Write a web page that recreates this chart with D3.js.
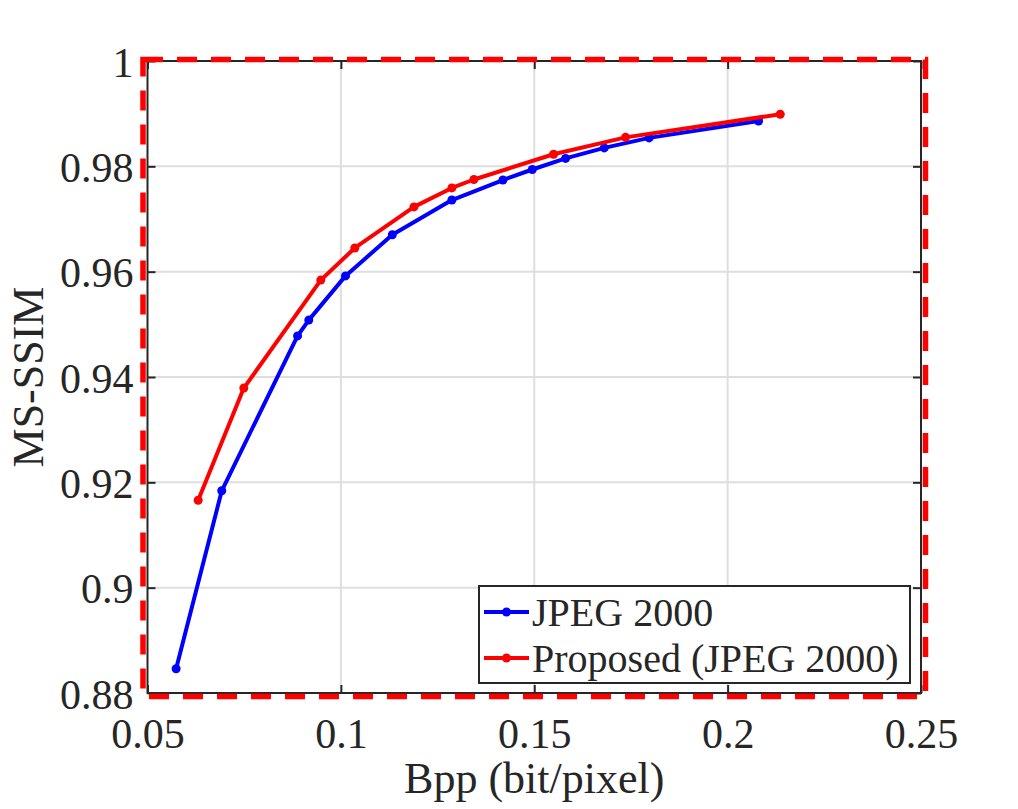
<!DOCTYPE html>
<html>
<head>
<meta charset="utf-8">
<script src="https://cdn.jsdelivr.net/npm/d3@7"></script>
<style>
  body { margin: 0; background: #fff; }
  text { font-family: "Liberation Serif", "Times New Roman", serif; fill: #262626; }
</style>
</head>
<body>
<svg width="1018" height="809"></svg>
<script>
//data
var jpegBpp = [0.0574, 0.0692, 0.0888, 0.0917, 0.1012, 0.1133, 0.1287, 0.1419, 0.1495, 0.1581, 0.1681, 0.1797, 0.2080];
var jpegSsim = [0.8846, 0.9184, 0.9478, 0.9508, 0.9592, 0.9670, 0.9736, 0.9774, 0.9794, 0.9815, 0.9835, 0.9854, 0.9886];
var propBpp = [0.0631, 0.0749, 0.0948, 0.1036, 0.1189, 0.1287, 0.1344, 0.1550, 0.1736, 0.2136];
var propSsim = [0.9166, 0.9379, 0.9584, 0.9645, 0.9723, 0.9759, 0.9775, 0.9823, 0.9855, 0.9899];
var xTicks = [0.05, 0.1, 0.15, 0.2, 0.25];
var yTicks = [0.88, 0.9, 0.92, 0.94, 0.96, 0.98, 1];
var seriesNames = ["JPEG 2000", "Proposed (JPEG 2000)"];
var seriesColors = ["#0000ff", "#ff0000"];

var svg = d3.select("svg");

//plot box
var pL = 147.5, pR = 921, pT = 61, pB = 693;

var x = d3.scaleLinear().domain([0.05, 0.25]).range([pL, pR]);
var y = d3.scaleLinear().domain([0.88, 1]).range([pB, pT]);

var series = [
    { name: seriesNames[0], color: seriesColors[0], pts: jpegBpp.map(function (d, i) { return [d, jpegSsim[i]]; }) },
    { name: seriesNames[1], color: seriesColors[1], pts: propBpp.map(function (d, i) { return [d, propSsim[i]]; }) }
];

//grid
svg.append("g").selectAll("line")
    .data(xTicks.slice(1, -1))
    .enter().append("line")
    .attr("x1", function (d) { return x(d); })
    .attr("x2", function (d) { return x(d); })
    .attr("y1", pT).attr("y2", pB)
    .attr("stroke", "#dedede").attr("stroke-width", 2);

svg.append("g").selectAll("line")
    .data(yTicks.slice(1, -1))
    .enter().append("line")
    .attr("y1", function (d) { return y(d); })
    .attr("y2", function (d) { return y(d); })
    .attr("x1", pL).attr("x2", pR)
    .attr("stroke", "#dedede").attr("stroke-width", 2);

//axes, ticks point inwards, box on
var tk = 8;
function styleTicks(g) {
    g.select(".domain").remove();
    g.selectAll("line").attr("stroke", "#262626").attr("stroke-width", 2);
}

svg.append("g").attr("transform", "translate(0," + pB + ")")
    .call(d3.axisBottom(x).tickValues(xTicks).tickSizeInner(-tk).tickSizeOuter(0).tickFormat(d3.format("")))
    .call(styleTicks)
    .call(function (g) {
        g.selectAll("text").attr("font-size", 42).attr("fill", "#262626").attr("y", 55).attr("dy", 0);
    });

svg.append("g").attr("transform", "translate(0," + pT + ")")
    .call(d3.axisTop(x).tickValues(xTicks).tickSizeInner(-tk).tickSizeOuter(0).tickFormat(""))
    .call(styleTicks);

svg.append("g").attr("transform", "translate(" + pL + ",0)")
    .call(d3.axisLeft(y).tickValues(yTicks).tickSizeInner(-tk).tickSizeOuter(0).tickFormat(d3.format("")))
    .call(styleTicks)
    .call(function (g) {
        g.selectAll("text").attr("font-size", 42).attr("fill", "#262626").attr("x", -14).attr("dy", "0.36em");
    });

svg.append("g").attr("transform", "translate(" + pR + ",0)")
    .call(d3.axisRight(y).tickValues(yTicks).tickSizeInner(-tk).tickSizeOuter(0).tickFormat(""))
    .call(styleTicks);

svg.selectAll(".tick text").attr("font-family", "'Liberation Serif', 'Times New Roman', serif");

//box outline
svg.append("rect")
    .attr("x", pL).attr("y", pT)
    .attr("width", pR - pL).attr("height", pB - pT)
    .attr("fill", "none").attr("stroke", "#262626").attr("stroke-width", 2);

//curves
var line = d3.line()
    .x(function (d) { return x(d[0]); })
    .y(function (d) { return y(d[1]); });

series.forEach(function (s) {
    svg.append("path")
        .datum(s.pts)
        .attr("d", line)
        .attr("fill", "none")
        .attr("stroke", s.color)
        .attr("stroke-width", 4)
        .attr("stroke-linejoin", "round");

    svg.append("g").selectAll("circle")
        .data(s.pts)
        .enter().append("circle")
        .attr("cx", function (d) { return x(d[0]); })
        .attr("cy", function (d) { return y(d[1]); })
        .attr("r", 4.5)
        .attr("fill", s.color);
});

//axis labels
svg.append("text")
    .attr("x", (pL + pR) / 2).attr("y", 793)
    .attr("text-anchor", "middle")
    .attr("font-size", 44)
    .text("Bpp (bit/pixel)");

svg.append("text")
    .attr("transform", "translate(43," + ((pT + pB) / 2) + ") rotate(-90)")
    .attr("text-anchor", "middle")
    .attr("font-size", 44)
    .text("MS-SSIM");

//legend
var lg = svg.append("g");
lg.append("rect")
    .attr("x", 479).attr("y", 586)
    .attr("width", 431).attr("height", 97)
    .attr("fill", "#fff").attr("stroke", "#262626").attr("stroke-width", 2);

var entry = lg.selectAll(".entry")
    .data(series)
    .enter().append("g")
    .attr("class", "entry")
    .attr("transform", function (d, i) { return "translate(0," + (612 + i * 46) + ")"; });

entry.append("line")
    .attr("x1", 484).attr("x2", 529)
    .attr("stroke", function (d) { return d.color; })
    .attr("stroke-width", 4);

entry.append("circle")
    .attr("cx", 506.5).attr("r", 4.5)
    .attr("fill", function (d) { return d.color; });

entry.append("text")
    .attr("x", 532).attr("dy", "0.35em")
    .attr("font-size", 40)
    .text(function (d) { return d.name; });

//red dashed frame round the axes
svg.append("rect")
    .attr("x", 143).attr("y", 59.5)
    .attr("width", 925.5 - 143).attr("height", 696.5 - 59.5)
    .attr("fill", "none")
    .attr("stroke", "#ff0000")
    .attr("stroke-width", 5.5)
    .attr("stroke-dasharray", "20,14");
</script>
</body>
</html>
